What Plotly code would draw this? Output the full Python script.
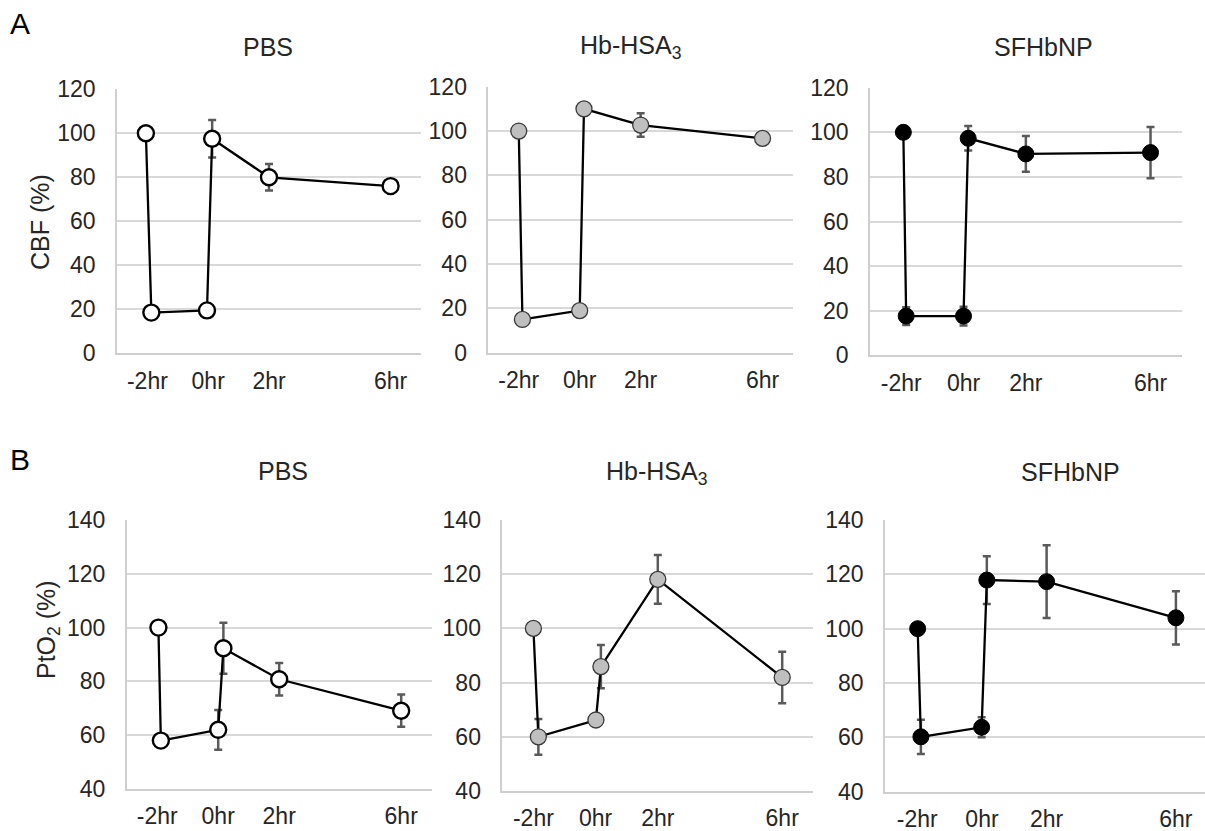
import plotly.graph_objects as go

# ---------------- data ----------------
tick_vals = [-2, 0, 2, 6]
tick_text = ["-2hr", "0hr", "2hr", "6hr"]
groups = ["PBS", "Hb-HSA<sub>3</sub>", "SFHbNP"]

# CBF (%)
x_cbf_pbs = [-2.05, -1.87, -0.04, 0.13, 2, 6]
y_cbf_pbs = [100, 18.5, 19.5, 97.5, 80, 76]
e_cbf_pbs = [0, 1.5, 1.5, 8.5, 6, 1.5]

x_cbf_hb = [-2.0, -1.88, 0.0, 0.14, 2, 6]
y_cbf_hb = [100, 15, 19, 110, 102.7, 96.7]
e_cbf_hb = [0, 1, 1, 1.5, 5.3, 1]

x_cbf_sf = [-1.93, -1.84, 0.0, 0.15, 2, 6]
y_cbf_sf = [100, 17.6, 17.6, 97.3, 90.3, 90.9]
e_cbf_sf = [0, 4, 4.2, 5.5, 8, 11.5]

# PtO2 (%)
x_pto_pbs = [-1.96, -1.88, 0.0, 0.17, 2, 6]
y_pto_pbs = [100, 58, 62, 92.3, 80.8, 69.1]
e_pto_pbs = [0, 1.5, 7.4, 9.5, 6, 6]

x_pto_hb = [-2.0, -1.84, 0.01, 0.17, 2, 6]
y_pto_hb = [100, 60, 66.2, 85.9, 118.1, 81.9]
e_pto_hb = [0, 6.6, 1.5, 8, 9, 9.5]

x_pto_sf = [-1.99, -1.89, -0.01, 0.15, 2, 6]
y_pto_sf = [100, 60.2, 63.7, 117.9, 117.3, 104]
e_pto_sf = [0, 6.3, 3.7, 8.8, 13.4, 9.8]

cbf_ticks = [0, 20, 40, 60, 80, 100, 120]
pto_ticks = [40, 60, 80, 100, 120, 140]

# ---------------- styling ----------------
W, H = 1205, 831
FONT = "Liberation Sans, Arial, sans-serif"
GRID = "#d9d9d9"
AXIS = "#cfcfcf"
TXT = "#262626"

marker_styles = [
    dict(color="white", line=dict(color="black", width=2.4)),
    dict(color="#bfbfbf", line=dict(color="#3a3a3a", width=1.3)),
    dict(color="black", line=dict(color="black", width=1)),
]

# panel pixel boxes (left, right, top, bottom)
boxes = [
    (117, 421, 89.3, 353.3),
    (488.3, 793, 86.7, 352.7),
    (870, 1181.7, 87.7, 355.3),
    (126.7, 431.7, 520, 789),
    (502.3, 813.3, 520, 791),
    (885, 1205, 520, 791.7),
]
xranges = [[-3, 7]] * 5 + [[-3, 6.9]]

series = [
    (x_cbf_pbs, y_cbf_pbs, e_cbf_pbs),
    (x_cbf_hb, y_cbf_hb, e_cbf_hb),
    (x_cbf_sf, y_cbf_sf, e_cbf_sf),
    (x_pto_pbs, y_pto_pbs, e_pto_pbs),
    (x_pto_hb, y_pto_hb, e_pto_hb),
    (x_pto_sf, y_pto_sf, e_pto_sf),
]

fig = go.Figure()
layout = dict(
    width=W, height=H, autosize=False,
    margin=dict(l=0, r=0, t=0, b=0, pad=0),
    paper_bgcolor="white", plot_bgcolor="white",
    showlegend=False,
    font=dict(family=FONT, color=TXT),
)

for i, ((xs, ys, es), (l, r, t, b)) in enumerate(zip(series, boxes)):
    n = i + 1
    sfx = "" if n == 1 else str(n)
    fig.add_trace(go.Scatter(
        x=xs, y=ys, mode="lines+markers",
        line=dict(color="black", width=2.3),
        marker=dict(size=16, symbol="circle", **marker_styles[i % 3]),
        error_y=dict(type="data", array=es, visible=True,
                     color="#5a5a5a", thickness=2.5, width=4),
        xaxis="x" + sfx, yaxis="y" + sfx,
        cliponaxis=False,
    ))
    top_row = i < 3
    layout["xaxis" + sfx] = dict(
        domain=[l / W, min(r / W, 1.0)], range=xranges[i], anchor="y" + sfx,
        tickvals=tick_vals, ticktext=tick_text,
        showgrid=False, zeroline=False, automargin=False,
        showline=True, linecolor=AXIS, linewidth=1.5,
        ticks="", ticklabelstandoff=6,
        tickfont=dict(family=FONT, size=23, color=TXT),
    )
    layout["yaxis" + sfx] = dict(
        domain=[1 - b / H, 1 - t / H],
        range=[0, 120] if top_row else [40, 140],
        tickvals=cbf_ticks if top_row else pto_ticks,
        anchor="x" + sfx, automargin=False,
        showgrid=True, gridcolor=GRID, gridwidth=1.5,
        zeroline=False,
        showline=True, linecolor=AXIS, linewidth=1.5,
        ticks="", ticklabelstandoff=15,
        tickfont=dict(family=FONT, size=23, color=TXT),
    )

annotations = []
title_pos = [(268, 47), (630, 47), (1043, 47), (283, 471), (657, 473), (1070, 472)]
for i, (tx, ty) in enumerate(title_pos):
    annotations.append(dict(
        text=groups[i % 3], x=tx / W, y=1 - ty / H, xref="paper", yref="paper",
        showarrow=False, xanchor="center", yanchor="middle",
        font=dict(family=FONT, size=25, color=TXT),
    ))
annotations.append(dict(text="A", x=20 / W, y=1 - 24 / H, xref="paper", yref="paper",
                        showarrow=False, xanchor="center", yanchor="middle",
                        font=dict(family=FONT, size=30, color="black")))
annotations.append(dict(text="B", x=20 / W, y=1 - 459 / H, xref="paper", yref="paper",
                        showarrow=False, xanchor="center", yanchor="middle",
                        font=dict(family=FONT, size=30, color="black")))
annotations.append(dict(text="CBF (%)", x=40 / W, y=1 - 222 / H, xref="paper", yref="paper",
                        showarrow=False, textangle=-90, xanchor="center", yanchor="middle",
                        font=dict(family=FONT, size=25, color=TXT)))
annotations.append(dict(text="PtO<sub>2</sub> (%)", x=48 / W, y=1 - 630 / H, xref="paper", yref="paper",
                        showarrow=False, textangle=-90, xanchor="center", yanchor="middle",
                        font=dict(family=FONT, size=25, color=TXT)))
layout["annotations"] = annotations

fig.update_layout(**layout)

# pin the figure to the top-left corner of the page (no default body margin)
post = (
    "document.documentElement.style.margin='0';"
    "document.body.style.margin='0';document.body.style.padding='0';"
    "document.body.style.overflow='hidden';"
    "var d=document.getElementById('{plot_id}');"
    "d.style.position='fixed';d.style.left='0px';d.style.top='0px';"
)
fig.write_html("out.html", post_script=post, config={"displayModeBar": False})
